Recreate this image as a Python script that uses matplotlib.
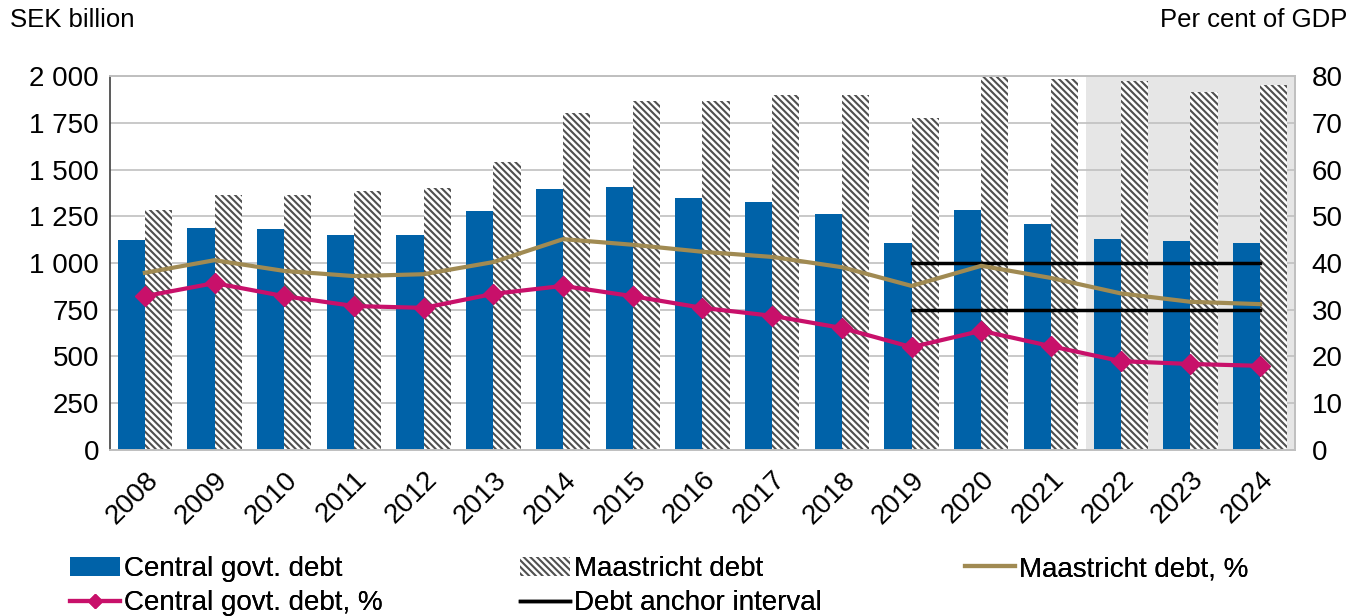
import matplotlib
matplotlib.use('Agg')
import matplotlib.pyplot as plt
import matplotlib.patches as mpatches
from matplotlib.lines import Line2D
from matplotlib.ticker import FuncFormatter
import numpy as np

plt.rcParams['font.family'] = ['Liberation Sans', 'DejaVu Sans']
plt.rcParams['hatch.linewidth'] = 1.5
plt.rcParams['hatch.color'] = '#505050'

years = ['2008', '2009', '2010', '2011', '2012', '2013', '2014', '2015', '2016',
         '2017', '2018', '2019', '2020', '2021', '2022', '2023', '2024']
central_debt = [1123, 1187, 1182, 1150, 1150, 1278, 1396, 1406, 1348,
                1326, 1262, 1107, 1283, 1208, 1128, 1117, 1107]
maastricht_debt = [1283, 1364, 1364, 1385, 1401, 1540, 1802, 1866, 1866,
                   1898, 1898, 1775, 1995, 1984, 1973, 1914, 1952]
maastricht_pct = [37.9, 40.6, 38.3, 37.2, 37.6, 40.2, 45.1, 43.9, 42.4,
                  41.3, 39.1, 35.1, 39.4, 36.8, 33.5, 31.7, 31.2]
central_pct = [32.9, 35.7, 32.9, 30.8, 30.4, 33.4, 35.1, 32.9, 30.4,
               28.7, 26.1, 22.0, 25.5, 22.2, 19.0, 18.4, 18.0]
anchor_years = ['2019', '2020', '2021', '2022', '2023', '2024']
anchor_upper = [40, 40, 40, 40, 40, 40]
anchor_lower = [30, 30, 30, 30, 30, 30]
forecast_start = '2022'

blue = '#0062a8'
gold = '#a08a52'
pink = '#c8106a'
HATCH = '\\' * 5
FS = 20

fig = plt.figure(figsize=(13.53, 6.16), dpi=100)
ax = fig.add_axes([0.0813, 0.2695, 0.8758, 0.6071])
ax2 = ax.twinx()

x = np.arange(len(years))
w = 0.39

# forecast shading
fs = years.index(forecast_start)
ax.axvspan(fs - 0.5, len(years) - 0.5, color='#e6e6e6', zorder=0, lw=0)

ax.bar(x - w / 2, central_debt, w, color=blue, zorder=2)
ax.bar(x + w / 2, maastricht_debt, w, color='white', hatch=HATCH, edgecolor='#505050',
       linewidth=0, zorder=2)

ax.set_xlim(-0.5, len(years) - 0.5)
ax.set_ylim(0, 2000)
ax.set_yticks(np.arange(0, 2001, 250))
ax.yaxis.set_major_formatter(FuncFormatter(lambda v, p: f'{int(v):,}'.replace(',', ' ')))
ax.grid(axis='y', color='#c0c0c0', linewidth=1.2, zorder=1)
ax.set_axisbelow(True)
ax.set_xticks(x)
ax.set_xticklabels(years, rotation=45, ha='right', rotation_mode='anchor')
ax.tick_params(axis='both', length=0, labelsize=FS, pad=8)
ax.tick_params(axis='x', pad=12)

ax2.set_ylim(0, 80)
ax2.set_yticks(np.arange(0, 81, 10))
ax2.tick_params(axis='y', length=0, labelsize=FS, pad=12)

ax_idx = [years.index(y) for y in anchor_years]
ax2.plot(x, maastricht_pct, color=gold, lw=3, zorder=4)
ax2.plot(x, central_pct, color=pink, lw=3, marker='D', markersize=10, zorder=5)
ax2.plot(ax_idx, anchor_upper, color='black', lw=2.5, zorder=3)
ax2.plot(ax_idx, anchor_lower, color='black', lw=2.5, zorder=3)

for a in (ax, ax2):
    for s in a.spines.values():
        s.set_color('#bfbfbf')
        s.set_linewidth(1.2)
ax.spines['left'].set_color('#404040')
ax2.spines['left'].set_visible(False)

fig.text(10 / 1353, 1 - 20 / 616, 'SEK billion', fontsize=18.5, va='center', ha='left')
fig.text(1347 / 1353, 1 - 20 / 616, 'Per cent of GDP', fontsize=18.5, va='center', ha='right')

h_central = mpatches.Patch(facecolor=blue, label='Central govt. debt')
h_central_pct = Line2D([], [], color=pink, lw=3, marker='D', markersize=7, label='Central govt. debt, %')
h_maas = mpatches.Patch(facecolor='white', hatch=HATCH, edgecolor='#505050', lw=0, label='Maastricht debt')
h_anchor = Line2D([], [], color='black', lw=2.5, label='Debt anchor interval')
h_maas_pct = Line2D([], [], color=gold, lw=3, label='Maastricht debt, %')

leg_kw = dict(loc='upper left', frameon=False, fontsize=FS, handlelength=1.8,
              handletextpad=0.15, labelspacing=0.3, borderaxespad=0, borderpad=0)
for hs, xpos in [([h_central, h_central_pct], 70), ([h_maas, h_anchor], 520), ([h_maas_pct], 965)]:
    lg = fig.legend(handles=hs, bbox_to_anchor=(xpos / 1353, 1 - 556 / 616), **leg_kw)
    fig.add_artist(lg)

fig.savefig('out.png', dpi=100)
